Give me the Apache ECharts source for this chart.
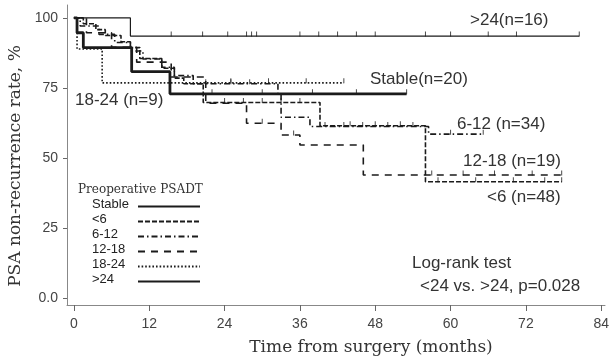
<!DOCTYPE html>
<html>
<head>
<meta charset="utf-8">
<script src="https://cdn.jsdelivr.net/npm/echarts@6/dist/echarts.min.js"></script>
<style>
  html, body { margin: 0; padding: 0; background: #fff; }
  #chart { width: 613px; height: 359px; }
</style>
</head>
<body>
<div id="chart"></div>
<script>
// Kaplan-Meier steps: time (months) and non-recurrence rate (%)
const stableTime = [0, 0.5, 1.5, 9.2, 15.3, 53];
const stableSurv = [100, 94.7, 89.4, 80.8, 72.9, 72.9];

const lt6Time = [0, 1.5, 3.5, 5, 7.5, 9, 10.5, 14, 16, 17.5, 20.6, 39.2, 56, 77.7];
const lt6Surv = [100, 97.9, 95.8, 93.7, 91.5, 89.4, 85.5, 82, 78.5, 76.5, 69.8, 61.5, 41.5, 41.5];

const t6to12Time = [0, 1, 4, 6.5, 9, 11, 14, 16, 19, 32.5, 33, 37.6, 56.5, 65.2];
const t6to12Surv = [100, 97.1, 94.1, 91.2, 88.2, 85.3, 82.4, 79.4, 76.5, 72.5, 64.5, 61.2, 58.5, 58.5];

const t12to18Time = [0, 2, 6, 10, 15.5, 21, 27.5, 33, 36, 46.1, 77.7];
const t12to18Surv = [100, 94.7, 89.5, 84.2, 78.9, 69.5, 62.4, 58.2, 54.6, 43.9, 43.9];

const t18to24Time = [0, 0.5, 4.5, 43];
const t18to24Surv = [100, 88.9, 76.8, 76.8];

const gt24Time = [0, 9, 80.5];
const gt24Surv = [100, 93.5, 93.5];

// censoring ticks (months)
const stableCensor = [22, 30, 38, 45, 53];
const lt6Censor = [24, 27, 30, 33, 36, 44, 48, 52, 58, 64, 70, 75, 77.7];
const t6to12Censor = [21, 25, 28, 40, 43, 46, 50, 54, 60, 65.2];
const t12to18Censor = [30, 35, 57, 62, 67, 73, 77.7];
const t18to24Censor = [25, 31, 37, 43];
const gt24Censor = [15.5, 20.5, 24.5, 27.5, 28.3, 29.1, 36, 39, 42, 45, 48, 56, 60, 66, 70.5, 80.5];

const xTicks = [0, 12, 24, 36, 48, 60, 72, 84];
const yTicks = [0, 25, 50, 75, 100];

const groupNames = ['Stable', '<6', '6-12', '12-18', '18-24', '>24'];

const ink = '#1b1b1b';

function pairs(ts, ss) { return ts.map((t, i) => [t, ss[i]]); }
function survAt(ts, ss, t) {
  let s = ss[0];
  for (let i = 0; i < ts.length; i++) { if (ts[i] <= t) s = ss[i]; }
  return s;
}

const groups = [
  { name: groupNames[0], t: stableTime, s: stableSurv, c: stableCensor, width: 2.8, type: 'solid' },
  { name: groupNames[1], t: lt6Time, s: lt6Surv, c: lt6Censor, width: 1.6, type: [5, 2] },
  { name: groupNames[2], t: t6to12Time, s: t6to12Surv, c: t6to12Censor, width: 1.6, type: [6, 3, 1.5, 3] },
  { name: groupNames[3], t: t12to18Time, s: t12to18Surv, c: t12to18Censor, width: 1.6, type: [7, 6] },
  { name: groupNames[4], t: t18to24Time, s: t18to24Surv, c: t18to24Censor, width: 1.6, type: [1.6, 2] },
  { name: groupNames[5], t: gt24Time, s: gt24Surv, c: gt24Censor, width: 1.2, type: 'solid' }
];

const series = [];
groups.forEach(g => {
  series.push({
    name: g.name,
    type: 'line',
    step: 'end',
    symbol: 'none',
    silent: true,
    lineStyle: { color: ink, width: g.width, type: g.type },
    itemStyle: { color: ink },
    data: pairs(g.t, g.s),
    z: g.name === 'Stable' ? 3 : 2
  });
  series.push({
    name: g.name + ' censored',
    type: 'scatter',
    symbol: 'rect',
    symbolSize: [1, 5],
    symbolOffset: [0, -2],
    silent: true,
    itemStyle: { color: ink },
    data: g.c.map(t => [t, survAt(g.t, g.s, t)])
  });
});

const chart = echarts.init(document.getElementById('chart'), null, { renderer: 'canvas' });

const labelFont = 'Liberation Sans, Arial, sans-serif';
const serifFont = 'DejaVu Serif, Liberation Serif, serif';

// legend labels sit left of the legend line samples
const legendTop = 199;
const legendStep = 15;
const legendLabels = groupNames.map((n, i) => ({
  type: 'text', left: 92, top: legendTop + i * legendStep - 1,
  style: { text: n, font: '13px ' + labelFont, fill: '#222' }
}));

const notes = [
  { text: '>24(n=16)', left: 470, top: 12 },
  { text: 'Stable(n=20)', left: 370, top: 71 },
  { text: '18-24 (n=9)', left: 75, top: 92 },
  { text: '6-12 (n=34)', left: 457, top: 116 },
  { text: '12-18 (n=19)', left: 463, top: 153 },
  { text: '<6 (n=48)', left: 487, top: 189 },
  { text: 'Log-rank test', left: 412, top: 255 },
  { text: '<24 vs. >24, p=0.028', left: 420, top: 278 }
].map(n => ({ type: 'text', left: n.left, top: n.top, style: { text: n.text, font: '17px ' + labelFont, fill: '#333' } }));

chart.setOption({
  animation: false,
  backgroundColor: '#fff',
  grid: { left: 67, right: 8, top: 5, bottom: 54 },
  xAxis: {
    type: 'value',
    min: -1.1,
    max: 84.6,
    axisLine: { show: true, onZero: false, lineStyle: { color: '#888', width: 1 } },
    axisTick: { show: true, length: 6, customValues: xTicks, lineStyle: { color: '#666' } },
    axisLabel: { customValues: xTicks, margin: 12, fontFamily: labelFont, fontSize: 14, color: '#444' },
    splitLine: { show: false }
  },
  yAxis: {
    type: 'value',
    min: -2.5,
    max: 104.6,
    axisLine: { show: true, onZero: false, lineStyle: { color: '#888', width: 1 } },
    axisTick: { show: true, length: 4, customValues: yTicks, lineStyle: { color: '#666' } },
    axisLabel: {
      customValues: yTicks, margin: 9, fontFamily: labelFont, fontSize: 14, color: '#444',
      formatter: v => (v === 0 ? '0.0' : String(v))
    },
    splitLine: { show: false }
  },
  legend: {
    data: groupNames,
    orient: 'vertical',
    left: 137,
    top: legendTop,
    itemWidth: 62,
    itemHeight: 10,
    itemGap: 0,
    padding: 0,
    selectedMode: false,
    itemStyle: { opacity: 0 },
    textStyle: { color: 'transparent', fontSize: 13, lineHeight: legendStep, padding: 0 }
  },
  graphic: [
    { type: 'text', left: 78, top: 184, style: { text: 'Preoperative PSADT', font: '12px ' + serifFont, fill: '#333' } },
    {
      type: 'text', x: 371, y: 348,
      style: { text: 'Time from surgery (months)', font: '17px ' + serifFont, fill: '#333', textAlign: 'center', textVerticalAlign: 'middle' }
    },
    {
      type: 'text', x: 16, y: 166, rotation: Math.PI / 2,
      style: { text: 'PSA non-recurrence rate, %', font: '17px ' + serifFont, fill: '#333', textAlign: 'center', textVerticalAlign: 'middle' }
    }
  ].concat(notes, legendLabels),
  series: series
});
</script>
</body>
</html>
